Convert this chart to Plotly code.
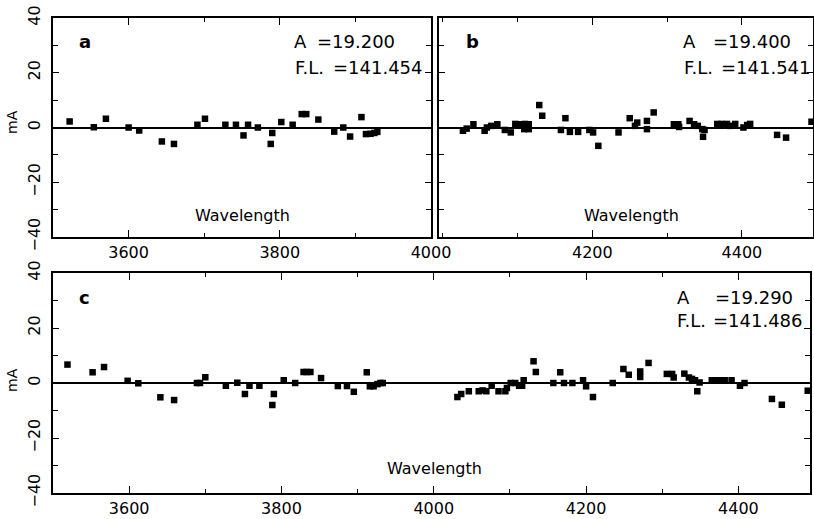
import plotly.graph_objects as go

# ---------------- data ----------------
wl_a = [3522, 3554, 3570, 3600, 3614, 3644, 3660, 3691, 3701, 3728, 3742, 3752, 3758, 3771,
        3788, 3790, 3802, 3817, 3829, 3835, 3851, 3872, 3884, 3893, 3908, 3914, 3920, 3925, 3929]
res_a = [2.2, 0.1, 3.2, 0.0, -1.1, -5.1, -6.0, 1.0, 3.2, 1.0, 1.0, -2.9, 1.0, 0.0,
         -6.0, -2.0, 2.0, 1.0, 4.9, 4.9, 2.9, -1.5, 0.0, -3.3, 3.8, -2.4, -2.3, -2.0, -1.6]

wl_b = [4027, 4032, 4041, 4056, 4059, 4065, 4073, 4083, 4091, 4097, 4102, 4109, 4110, 4115, 4115,
        4129, 4133, 4158, 4164, 4170, 4181, 4196, 4201, 4208, 4235, 4250, 4257, 4260, 4273, 4273,
        4282, 4309, 4315, 4316, 4330, 4336, 4341, 4347, 4348, 4350, 4367, 4373, 4380, 4384, 4391,
        4402, 4407, 4411, 4447, 4459, 4493]
res_b = [-1.2, -0.4, 1.2, -1.2, 0.0, 0.6, 1.2, -0.9, -1.8, 1.3, 1.2, -0.6, 1.3, 1.2, -0.6,
         8.2, 4.3, -0.9, 3.4, -1.6, -1.6, -0.9, -1.8, -6.7, -1.8, 3.4, 0.6, 1.8, 2.4, -0.6,
         5.5, 1.2, 1.2, 0.2, 2.4, 1.2, 0.6, -0.6, -3.4, -0.9, 1.3, 1.3, 1.3, 0.6, 1.3,
         0.0, 0.9, 1.3, -2.7, -3.7, 2.1]

wl_c = [3519, 3552, 3567, 3598, 3612, 3641, 3659, 3689, 3693, 3700, 3727, 3742, 3752, 3758, 3771,
        3788, 3790, 3803, 3818, 3829, 3833, 3838, 3852, 3874, 3886, 3895, 3912, 3916, 3921, 3926,
        3930, 3933,
        4031, 4036, 4046, 4059, 4064, 4069, 4076, 4085, 4094, 4096, 4101, 4107, 4112, 4116, 4118,
        4131, 4134, 4157, 4166, 4171, 4182, 4196, 4200, 4209, 4235, 4249, 4256, 4271, 4271, 4282,
        4306, 4313, 4315, 4329, 4335, 4339, 4343, 4346, 4349, 4365, 4371, 4376, 4382, 4391, 4402,
        4408, 4444, 4457, 4491]
res_c = [6.7, 3.9, 5.8, 0.8, -0.1, -5.2, -6.2, 0.0, 0.0, 2.1, -1.0, 0.1, -4.0, -1.0, -1.0,
         -8.0, -4.0, 1.0, 0.0, 4.0, 4.0, 4.0, 1.8, -1.1, -1.1, -3.2, 3.9, -1.2, -1.2, -0.4,
         0.0, 0.0,
         -5.1, -4.0, -3.0, -3.0, -2.7, -3.0, -1.0, -3.0, -3.0, -1.8, 0.0, 0.0, -1.0, -1.0, 1.0,
         7.9, 4.0, 0.0, 3.9, 0.0, 0.0, 1.0, -1.2, -5.1, 0.0, 5.1, 3.0, 4.2, 2.2, 7.3,
         3.3, 3.3, 2.0, 3.4, 2.0, 1.5, 1.0, -3.0, 0.2, 1.0, 1.0, 1.0, 1.0, 1.0, -1.0,
         0.0, -5.8, -7.9, -2.8]

panel_labels = ["a", "b", "c"]
A_values = ["=19.200", "=19.400", "=19.290"]
FL_values = ["=141.454", "=141.541", "=141.486"]
y_tickvals = [-40, -20, 0, 20, 40]
y_ticktext = ["\u221240", "\u221220", "0", "20", "40"]

# ---------------- layout helpers ----------------
W, H = 814, 519
def px(x):
    return x / W
def py(y):
    return 1 - y / H

FONT = "DejaVu Sans"
fig = go.Figure()

mk = dict(symbol="square", size=6.5, color="black", line=dict(width=0))
fig.add_trace(go.Scatter(x=wl_a, y=res_a, mode="markers", marker=mk, xaxis="x", yaxis="y", showlegend=False))
fig.add_trace(go.Scatter(x=wl_b, y=res_b, mode="markers", marker=mk, xaxis="x2", yaxis="y2", showlegend=False))
fig.add_trace(go.Scatter(x=wl_c, y=res_c, mode="markers", marker=mk, xaxis="x3", yaxis="y3", showlegend=False))

def xax(domain, rng, anchor, tickvals):
    return dict(domain=domain, range=rng, anchor=anchor, showline=True, linecolor="black", linewidth=1.5,
                mirror="allticks", ticks="inside", ticklen=7, tickwidth=1.2, tickcolor="black",
                tickvals=tickvals, showgrid=False, zeroline=False, automargin=False,
                minor=dict(dtick=100, tick0=3500, ticks="inside", ticklen=4, tickwidth=1, tickcolor="black"),
                tickfont=dict(family=FONT, size=16, color="black"))

def yax(domain, anchor, showlabels):
    return dict(domain=domain, range=[-40, 40], anchor=anchor, showline=True, linecolor="black", linewidth=1.5,
                mirror="allticks", ticks="inside", ticklen=6, tickwidth=1.2, tickcolor="black",
                tickvals=y_tickvals, ticktext=y_ticktext, showticklabels=showlabels, tickangle=-90,
                ticklabelstandoff=5,
                showgrid=False, zeroline=True, zerolinecolor="black", zerolinewidth=1.5, automargin=False,
                minor=dict(dtick=10, tick0=0, ticks="inside", ticklen=5, tickwidth=1, tickcolor="black"),
                tickfont=dict(family=FONT, size=16, color="black"))

top_dom = [py(237), py(18)]
bot_dom = [py(493), py(273)]

fig.update_layout(
    template="none",
    width=W, height=H, margin=dict(l=0, r=0, t=0, b=0, autoexpand=False),
    paper_bgcolor="white", plot_bgcolor="white",
    xaxis=xax([px(53), px(431)], [3500, 4000], "y", [3600, 3800, 4000]),
    yaxis=yax(top_dom, "x", True),
    xaxis2=xax([px(439), px(813)], [3995, 4495], "y2", [4200, 4400]),
    yaxis2=yax(top_dom, "x2", False),
    xaxis3=xax([px(53), px(810)], [3500, 4494], "y3", [3600, 3800, 4000, 4200, 4400]),
    yaxis3=yax(bot_dom, "x3", True),
)

ann = []
def txt(x, y, s, size=18, anchor="left", bold=False, angle=0):
    ann.append(dict(x=px(x), y=py(y), xref="paper", yref="paper", text=("<b>%s</b>" % s) if bold else s,
                    showarrow=False, xanchor=anchor, yanchor="middle", textangle=angle,
                    font=dict(family=FONT, size=size, color="black")))

# panel a
txt(85, 42, panel_labels[0], 18, "center", True)
txt(292, 42, "A")
txt(315, 42, A_values[0])
txt(293, 68, "F.L.")
txt(331, 68, FL_values[0])
txt(242, 215, "Wavelength", 16, "center")
# panel b
txt(472, 42, panel_labels[1], 18, "center", True)
txt(681, 42, "A")
txt(711, 42, A_values[1])
txt(682, 68, "F.L.")
txt(719, 68, FL_values[1])
txt(631, 215, "Wavelength", 16, "center")
# panel c
txt(84, 297, panel_labels[2], 18, "center", True)
txt(675, 297, "A")
txt(713, 297, A_values[2])
txt(675, 320, "F.L.")
txt(711, 320, FL_values[2])
txt(435, 468, "Wavelength", 16, "center")
# y titles
txt(12, 122, "mA", 14, "center", False, -90)
txt(12, 380, "mA", 14, "center", False, -90)

fig.update_layout(annotations=ann)
fig.write_html("out.html", config={"displayModeBar": False},
               post_script="document.body.style.margin='0px';document.body.style.overflow='hidden';")
